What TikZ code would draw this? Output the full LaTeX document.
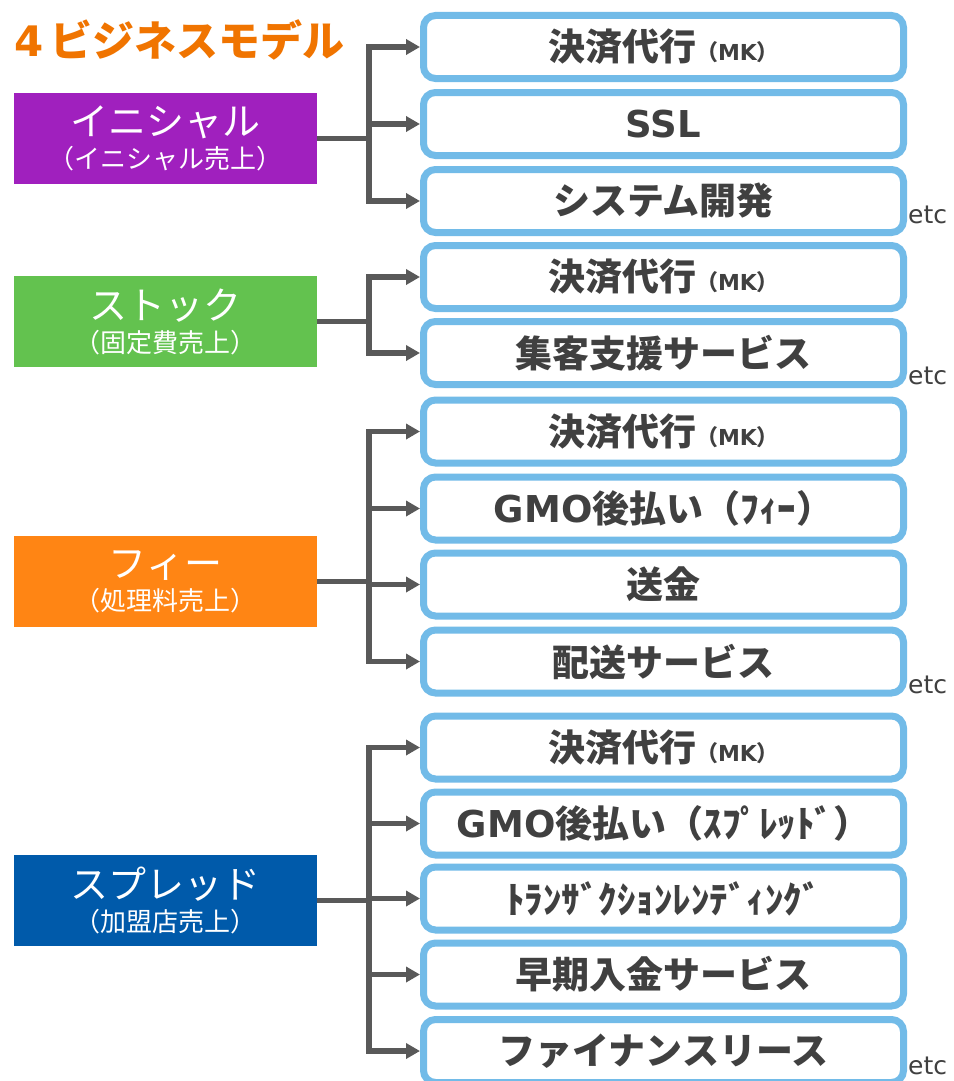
\documentclass[tikz,border=0pt]{standalone}
\usepackage{fontspec}
\setmainfont{Noto Sans CJK JP}
\newfontfamily\latfont{DejaVu Sans}
\usetikzlibrary{arrows.meta}
\definecolor{inicolor}{HTML}{A020BE}
\definecolor{stockcolor}{HTML}{63C24F}
\definecolor{feecolor}{HTML}{FF8514}
\definecolor{spreadcolor}{HTML}{005AAA}
\definecolor{titlecolor}{HTML}{F07400}
\definecolor{itemblue}{HTML}{72BBE8}
\definecolor{linkgray}{HTML}{595959}
\definecolor{textgray}{HTML}{404040}
\tikzset{
  catbox/.style={fill=#1, text=white, minimum width=303pt, minimum height=91pt,
    inner sep=0pt, align=center},
  itembox/.style={draw=itemblue, line width=7pt, rounded corners=12pt, fill=white,
    minimum width=480pt, minimum height=63pt, inner sep=0pt, text=textgray,
    font=\bfseries\fontsize{37}{42}\selectfont},
  link/.style={draw=linkgray, line width=5.5pt},
  etcnote/.style={anchor=west, text=textgray, inner sep=1pt,
    font=\latfont\fontsize{25}{28}\selectfont},
}
\def\itemnode{\node[itembox]}
\def\drawlink{\draw[link]}
\def\drawarrow{\draw[link,-{Triangle[length=14pt,width=15pt]}]}
\def\mk{{\fontsize{22}{24}\selectfont （{\latfont MK}）}}
\def\catmain{\fontsize{38}{44}\selectfont}
\def\catsub{\fontsize{26}{30}\selectfont}

\begin{document}
\begin{tikzpicture}[x=1pt,y=-1pt]
\path[use as bounding box, fill=white] (0,0) rectangle (953,1081);

\node[anchor=west, text=titlecolor, inner sep=0pt, font=\bfseries\fontsize{42}{48}\selectfont]
  (title) at (14,40) {{\latfont 4}\,ビジネスモデル};
\node[anchor=east, text=textgray, inner sep=0pt, font=\latfont\fontsize{40}{46}\selectfont]
  (cut) at (3,516) {3};

% categories
\node[catbox=inicolor] (ini) at (165.5,138.5) {\catmain イニシャル\\[7pt]\catsub （イニシャル売上）};
\node[catbox=stockcolor] (stock) at (165.5,321.5) {\catmain ストック\\[7pt]\catsub （固定費売上）};
\node[catbox=feecolor] (fee) at (165.5,581.5) {\catmain フィー\\[7pt]\catsub （処理料売上）};
\node[catbox=spreadcolor] (spread) at (165.5,900.5) {\catmain スプレッド\\[7pt]\catsub （加盟店売上）};

% items
\itemnode (b1) at (663.5,47) {決済代行\mk};
\itemnode (b2) at (663.5,124) {{\latfont SSL}};
\itemnode (b3) at (663.5,201) {システム開発};
\itemnode (c1) at (663.5,277) {決済代行\mk};
\itemnode (c2) at (663.5,353) {集客支援サービス};
\itemnode (d1) at (663.5,431.5) {決済代行\mk};
\itemnode (d2) at (663.5,508.5) {{\latfont GMO}後払い（ﾌｨｰ）};
\itemnode (d3) at (663.5,584.5) {送金};
\itemnode (d4) at (663.5,661.5) {配送サービス};
\itemnode (e1) at (663.5,747.5) {決済代行\mk};
\itemnode (e2) at (663.5,823.5) {{\latfont GMO}後払い（ｽﾌﾟﾚｯﾄﾞ）};
\itemnode (e3) at (663.5,898.5) {ﾄﾗﾝｻﾞｸｼｮﾝﾚﾝﾃﾞｨﾝｸﾞ};
\itemnode (e4) at (663.5,974.5) {早期入金サービス};
\itemnode (e5) at (663.5,1051) {ファイナンスリース};

\node[etcnote] (etc1) at ([yshift=21pt]b3.south east) {etc};
\node[etcnote] (etc2) at ([yshift=12pt]c2.south east) {etc};
\node[etcnote] (etc3) at ([yshift=12pt]d4.south east) {etc};
\node[etcnote] (etc4) at ([yshift=20pt]e5.south east) {etc};

% links
\coordinate (j1) at (369,138.5);
\coordinate (j2) at (369,321.5);
\coordinate (j3) at (369,581.5);
\coordinate (j4) at (369,900.5);
\drawlink (ini.east) -- (j1);
\drawarrow (j1) |- (b1.west);
\drawarrow (j1) |- (b2.west);
\drawarrow (j1) |- (b3.west);
\drawlink (stock.east) -- (j2);
\drawarrow (j2) |- (c1.west);
\drawarrow (j2) |- (c2.west);
\drawlink (fee.east) -- (j3);
\drawarrow (j3) |- (d1.west);
\drawarrow (j3) |- (d2.west);
\drawarrow (j3) |- (d3.west);
\drawarrow (j3) |- (d4.west);
\drawlink (spread.east) -- (j4);
\drawarrow (j4) |- (e1.west);
\drawarrow (j4) |- (e2.west);
\drawarrow (j4) |- (e3.west);
\drawarrow (j4) |- (e4.west);
\drawarrow (j4) |- (e5.west);
\end{tikzpicture}
\end{document}
